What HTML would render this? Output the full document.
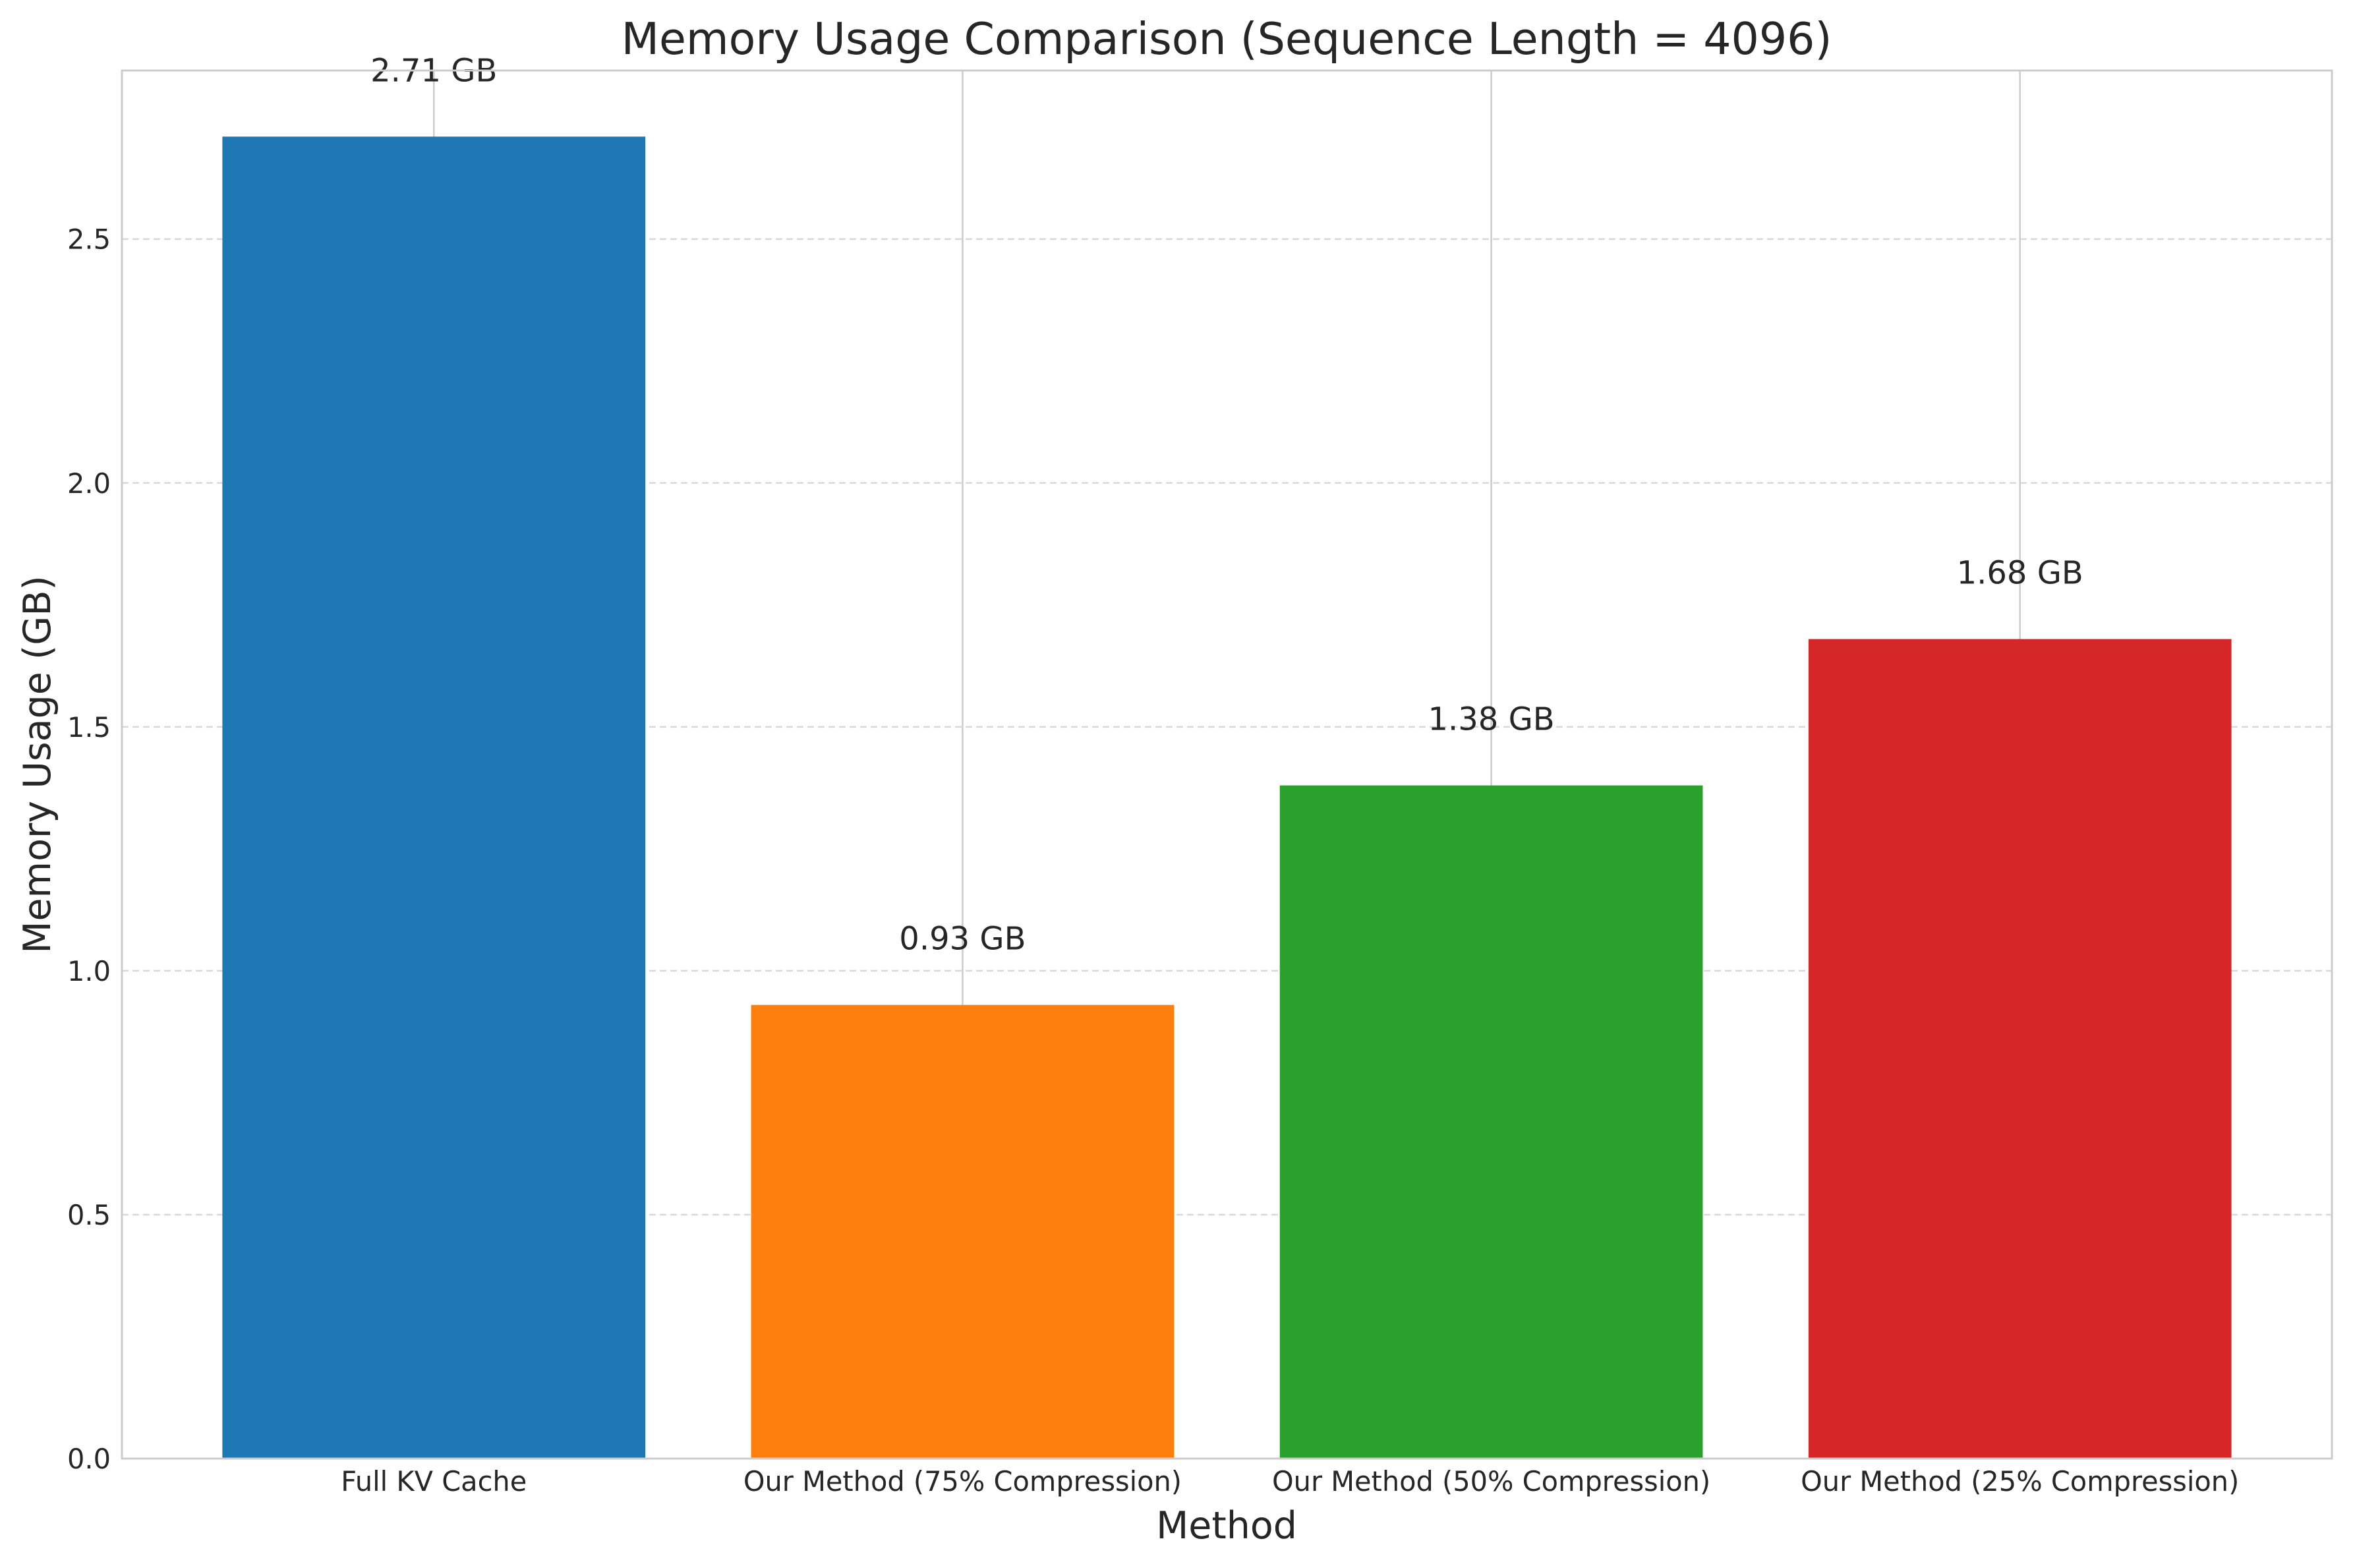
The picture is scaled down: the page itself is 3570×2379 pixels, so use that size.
<!DOCTYPE html>
<html><head><meta charset="utf-8"><style>
html,body{margin:0;padding:0;background:#fff;}
svg text{font-family:"DejaVu Sans","Liberation Sans",sans-serif;fill:#262626;}
</style></head><body>
<svg id="chart" width="3570" height="2374" viewBox="0 0 3570 2374" xmlns="http://www.w3.org/2000/svg">
<rect width="3570" height="2374" fill="#fff"/>
<g id="grid"></g>
<g id="bars"></g>
<g id="labels"></g>
<g id="axes"></g>
<text x="1861" y="82" font-size="66.5" text-anchor="middle">Memory Usage Comparison (Sequence Length = 4096)</text>
<text x="1861" y="2334" font-size="57" text-anchor="middle">Method</text>
<text x="0" y="0" font-size="57" text-anchor="middle" transform="translate(76,1160) rotate(-90)">Memory Usage (GB)</text>
</svg>
<script>
const categories = ["Full KV Cache","Our Method (75% Compression)","Our Method (50% Compression)","Our Method (25% Compression)"];
const values = [2.71, 0.93, 1.38, 1.68];
const valueLabels = ["2.71 GB","0.93 GB","1.38 GB","1.68 GB"];
const colors = ["#1f77b4","#ff7f0e","#2ca02c","#d62728"];
const yTicks = [0.0, 0.5, 1.0, 1.5, 2.0, 2.5];
const yTickLabels = ["0.0","0.5","1.0","1.5","2.0","2.5"];

const L=185, R=3538, T=107, B=2213;
const yMax = Math.max(...values)*1.05;
const y = v => B - v/yMax*(B-T);
const xMin=-0.59, xMax=categories.length-1+0.59;
const x = i => L + (i-xMin)/(xMax-xMin)*(R-L);
const bw = 0.8*(R-L)/(xMax-xMin);
const NS="http://www.w3.org/2000/svg";
function mk(tag, attrs, parent){const e=document.createElementNS(NS,tag);for(const k in attrs)e.setAttribute(k,attrs[k]);parent.appendChild(e);return e;}
const grid=document.getElementById('grid'), bars=document.getElementById('bars'), labels=document.getElementById('labels'), axes=document.getElementById('axes');

yTicks.forEach((t,i)=>{
  if(t>0){
    const g=mk('line',{x1:L,x2:R,y1:y(t),y2:y(t),stroke:'#d9d9d9','stroke-width':2.5,'stroke-dasharray':'10,6'},grid);
    
    
  }
  const tl=mk('text',{x:168,y:y(t)+15,'font-size':41.5,'text-anchor':'end'},axes);
  tl.textContent=yTickLabels[i];
  
  
});
categories.forEach((c,i)=>{
  const g=mk('line',{x1:x(i),x2:x(i),y1:T,y2:B,stroke:'#cccccc','stroke-width':2.5},grid);
  
  
  const b=mk('rect',{x:x(i)-bw/2,y:y(values[i]),width:bw,height:B-y(values[i]),fill:colors[i]},bars);
  
  
  const vl=mk('text',{x:x(i),y:y(values[i])-84,'font-size':48,'text-anchor':'middle'},labels);
  vl.textContent=valueLabels[i];
  
  
  const xl=mk('text',{x:x(i),y:2262,'font-size':41.5,'text-anchor':'middle'},axes);
  xl.textContent=c;
  
  
});
const frame=mk('rect',{x:L,y:T,width:R-L,height:B-T,fill:'none',stroke:'#cccccc','stroke-width':3},axes);


</script>
</body></html>
